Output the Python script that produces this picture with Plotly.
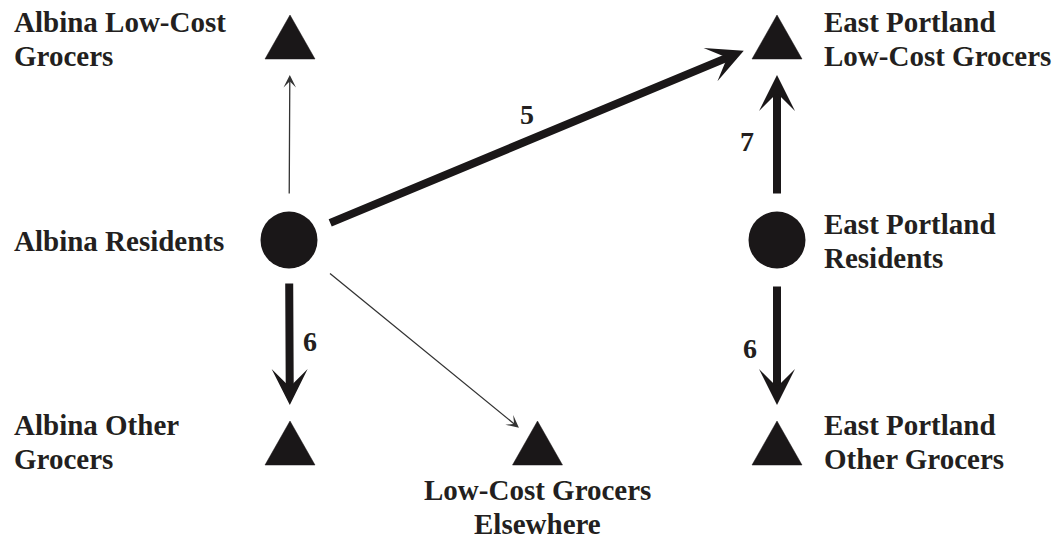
import plotly.graph_objects as go

# ---- data ----
node_names = ["Albina Low-Cost Grocers", "East Portland Low-Cost Grocers",
              "Albina Residents", "East Portland Residents",
              "Albina Other Grocers", "Low-Cost Grocers Elsewhere",
              "East Portland Other Grocers"]
node_shape = ["triangle", "triangle", "circle", "circle", "triangle", "triangle", "triangle"]
node_x = [290, 777, 289, 777, 290, 537.5, 777]
node_y = [37, 37, 240, 240, 443, 443, 443]

label_lines = [["Albina Low-Cost", "Grocers"],
               ["East Portland", "Low-Cost Grocers"],
               ["Albina Residents"],
               ["East Portland", "Residents"],
               ["Albina Other", "Grocers"],
               ["Low-Cost Grocers", "Elsewhere"],
               ["East Portland", "Other Grocers"]]
label_x = [12, 822, 12, 822, 12, 537.5, 822]
label_y = [22, 22, 241, 224, 425, 490, 425]
label_align = ["left", "left", "left", "left", "left", "center", "left"]

edge_src = [2, 2, 2, 2, 3, 3]
edge_tgt = [0, 1, 4, 5, 1, 6]
edge_label = ["", "5", "6", "", "7", "6"]
edge_thick = [False, True, True, False, True, True]
edge_label_dx = [0, -6, 20, 0, -30, -27]
edge_label_dy = [0, -24, 0, 0, 3, 7]
edge_start_off = [45, 43, 42, 51, 45, 45]
edge_end_off = [38, 36, 38, 24, 38, 38]

W, H = 1060, 540
INK = "#1a1718"
TXT = "#231f20"
FONT = "Liberation Serif, Times New Roman, serif"

fig = go.Figure()

# triangles
tri_x, tri_y = [], []
half_w, half_h = 25, 22
for i, s in enumerate(node_shape):
    if s == "triangle":
        cx, cy = node_x[i], node_y[i]
        tri_x += [cx - half_w, cx + half_w, cx, cx - half_w, None]
        tri_y += [cy + half_h, cy + half_h, cy - half_h, cy + half_h, None]
fig.add_trace(go.Scatter(x=tri_x, y=tri_y, mode="lines", fill="toself",
                         fillcolor=INK, line=dict(color=INK, width=0.5),
                         hoverinfo="skip", showlegend=False))

# circles
cx = [node_x[i] for i, s in enumerate(node_shape) if s == "circle"]
cy = [node_y[i] for i, s in enumerate(node_shape) if s == "circle"]
fig.add_trace(go.Scatter(x=cx, y=cy, mode="markers",
                         marker=dict(symbol="circle", size=57, color=INK,
                                     line=dict(width=0)),
                         hoverinfo="skip", showlegend=False))

annotations = []
# arrows
for k in range(len(edge_src)):
    s, t = edge_src[k], edge_tgt[k]
    thick = edge_thick[k]
    annotations.append(dict(
        x=node_x[t], y=node_y[t], ax=node_x[s], ay=node_y[s],
        xref="x", yref="y", axref="x", ayref="y",
        showarrow=True, text="",
        arrowhead=3,
        arrowwidth=8 if thick else 1.3,
        arrowsize=0.75 if thick else 1.6,
        arrowcolor=INK if thick else "#333333",
        standoff=edge_end_off[k], startstandoff=edge_start_off[k]))
    if edge_label[k]:
        mx = (node_x[s] + node_x[t]) / 2 + edge_label_dx[k]
        my = (node_y[s] + node_y[t]) / 2 + edge_label_dy[k]
        annotations.append(dict(x=mx, y=my, xref="x", yref="y", text="<b>%s</b>" % edge_label[k],
                                showarrow=False, font=dict(family=FONT, size=28, color=TXT),
                                xanchor="center", yanchor="middle"))

# node labels
line_gap = 33.5
for i, lines in enumerate(label_lines):
    for j, ln in enumerate(lines):
        annotations.append(dict(
            x=label_x[i], y=label_y[i] + j * line_gap, xref="x", yref="y",
            text="<b>%s</b>" % ln, showarrow=False,
            xanchor=label_align[i],
            yanchor="middle", align=label_align[i],
            font=dict(family=FONT, size=29, color=TXT)))

fig.update_layout(
    width=W, height=H,
    margin=dict(l=0, r=0, t=0, b=0),
    paper_bgcolor="white", plot_bgcolor="white",
    xaxis=dict(range=[0, W], visible=False, fixedrange=True),
    yaxis=dict(range=[H, 0], visible=False, fixedrange=True),
    annotations=annotations,
    showlegend=False,
)
fig.write_html("out.html", config={"displayModeBar": False, "staticPlot": True},
               post_script="document.body.style.margin='0';document.body.style.overflow='hidden';")
